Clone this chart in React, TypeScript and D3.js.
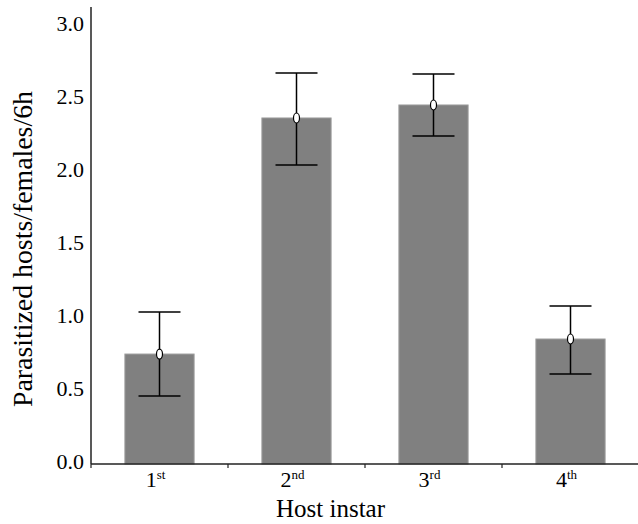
import React from "react";
import * as d3 from "d3";

const categories = ["1", "2", "3", "4"];
const suffixes = ["st", "nd", "rd", "th"];
const means = [0.753, 2.37, 2.459, 0.856];
const errHigh = [1.041, 2.678, 2.671, 1.082];
const errLow = [0.466, 2.048, 2.247, 0.616];
const yTicks = [0, 0.5, 1.0, 1.5, 2.0, 2.5, 3.0];

export default function App() {
  const W = 638, H = 524;
  const left = 91, right = 639, bottom = 464;
  const y = d3.scaleLinear().domain([0, 3]).range([bottom, 26]);
  const x = d3.scaleBand().domain(categories).range([left, right]).paddingInner(0).paddingOuter(0);
  const bw = x.bandwidth() * 0.505;
  const ff = "Liberation Serif";
  return (
    <svg width={W} height={H} style={{ position: "absolute", left: 0, top: 0 }}>
      <rect width={W} height={H} fill="#fff" />
      {categories.map((c, i) => {
        const cx = x(c)! + x.bandwidth() / 2;
        return (
          <g key={c}>
            <rect x={cx - bw / 2} y={y(means[i])} width={bw} height={bottom - y(means[i])} fill="#808080" stroke="#9a9a9a" strokeWidth={1} />
            <line x1={cx} x2={cx} y1={y(errLow[i])} y2={y(errHigh[i])} stroke="#000" strokeWidth={1.5} />
            <line x1={cx - 21} x2={cx + 21} y1={y(errHigh[i])} y2={y(errHigh[i])} stroke="#000" strokeWidth={1.5} />
            <line x1={cx - 21} x2={cx + 21} y1={y(errLow[i])} y2={y(errLow[i])} stroke="#000" strokeWidth={1.5} />
            <ellipse cx={cx} cy={y(means[i])} rx={3} ry={5} fill="#fff" stroke="#000" strokeWidth={1.2} />
            <text x={cx - 4} y={487} textAnchor="middle" fontSize={22} fontFamily={ff}>
              {c}
              <tspan fontSize={13} dy={-8}>{suffixes[i]}</tspan>
            </text>
          </g>
        );
      })}
      <line x1={left} x2={left} y1={7} y2={bottom} stroke="#222" strokeWidth={1.5} />
      <line x1={left} x2={right} y1={bottom} y2={bottom} stroke="#222" strokeWidth={1.5} />
      {categories.slice(1).map((c) => (
        <line key={c} x1={x(c)!} x2={x(c)!} y1={bottom} y2={bottom + 4} stroke="#222" strokeWidth={1.2} />
      ))}
      <line x1={left} x2={left} y1={bottom} y2={bottom + 4} stroke="#222" strokeWidth={1.2} />
      {yTicks.map((t) => (
        <text key={t} x={84} y={y(t) + 4.5} textAnchor="end" fontSize={22} fontFamily={ff}>{t.toFixed(1)}</text>
      ))}
      <text x={330.5} y={517} textAnchor="middle" fontSize={25} fontFamily={ff}>Host instar</text>
      <text transform={`translate(32, 249) rotate(-90)`} textAnchor="middle" fontSize={27} fontFamily={ff} textLength={316} lengthAdjust="spacingAndGlyphs">Parasitized hosts/females/6h</text>
    </svg>
  );
}
